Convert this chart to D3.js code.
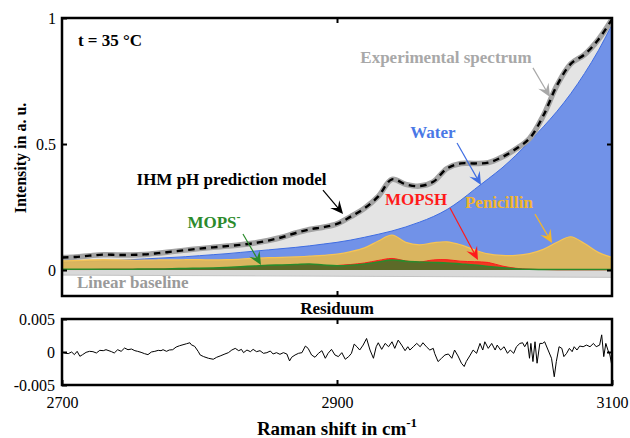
<!DOCTYPE html>
<html>
<head>
<meta charset="utf-8">
<style>
  body { margin: 0; background: #fff; }
  svg { font-family: "Liberation Serif", "Times New Roman", serif; }
  .lbl { font-weight: bold; font-size: 17px; font-family: "Liberation Serif", "Times New Roman", serif; }
  .tick text { font-size: 16px; font-family: "Liberation Serif", "Times New Roman", serif; }
  .tick line { stroke: #000; stroke-width: 2; }
  .domain { display: none; }
</style>
</head>
<body>
<script src="https://d3js.org/d3.v7.min.js"></script>
<script>
// wavenumbers (cm^-1) of the component spectra
var wave = [2700,2710,2720,2730,2740,2750,2760,2770,2780,2790,
            2800,2810,2820,2830,2840,2850,2860,2870,2880,2890,
            2900,2910,2920,2930,2940,2950,2960,2970,2980,2990,
            3000,3010,3020,3030,3040,3050,3060,3070,3080,3090,3100];

// experimental spectrum / IHM model
var spectrum = [0.050,0.052,0.057,0.061,0.060,0.060,0.062,0.067,0.073,0.079,
                0.085,0.090,0.095,0.100,0.107,0.117,0.130,0.147,0.161,0.170,
                0.183,0.212,0.245,0.292,0.360,0.340,0.333,0.350,0.403,0.423,
                0.423,0.426,0.448,0.480,0.522,0.612,0.733,0.818,0.855,0.914,0.995];

var water = [0.030,0.032,0.034,0.036,0.038,0.041,0.044,0.047,0.050,0.053,
             0.057,0.061,0.065,0.070,0.075,0.080,0.085,0.090,0.096,0.103,
             0.110,0.119,0.130,0.142,0.155,0.171,0.190,0.212,0.240,0.277,
             0.320,0.362,0.405,0.455,0.510,0.568,0.630,0.700,0.780,0.870,0.975];

var penicillin = [0.038,0.038,0.040,0.041,0.040,0.039,0.039,0.040,0.040,0.041,
                  0.041,0.040,0.041,0.043,0.047,0.049,0.050,0.052,0.055,0.058,
                  0.063,0.073,0.088,0.115,0.139,0.110,0.100,0.108,0.112,0.100,
                  0.080,0.064,0.058,0.058,0.065,0.082,0.110,0.132,0.105,0.070,0.050];

var mopsh = [0.002,0.002,0.002,0.003,0.003,0.003,0.003,0.004,0.004,0.004,
             0.005,0.005,0.006,0.007,0.009,0.011,0.013,0.015,0.016,0.016,
             0.018,0.022,0.028,0.038,0.046,0.036,0.032,0.040,0.041,0.035,
             0.033,0.030,0.016,0.007,0.003,0.002,0.001,0.001,0.001,0.001,0.001];

var mops = [0.003,0.003,0.003,0.003,0.003,0.003,0.004,0.004,0.005,0.006,
            0.007,0.008,0.010,0.013,0.016,0.019,0.020,0.022,0.024,0.020,
            0.017,0.019,0.024,0.032,0.040,0.035,0.032,0.030,0.028,0.024,
            0.020,0.014,0.009,0.005,0.003,0.002,0.002,0.002,0.002,0.002,0.002];

// linear baseline end points
var baseWave = [2700, 3100];
var baseVal = [-0.020, -0.029];

// residuum, in units of 1e-3
var resWave = [2700,2702,2704.5,2707,2709,2711,2713,2715,2717.5,2720,2722.5,2725,2727.5,2730,2732,2736,2738,2740.5,2743,2745.5,
  2748,2750.5,2753,2755,2757.5,2760,2762.5,2765,2767.5,2770,2772,2773.5,2776,2778,2780.5,2783,2785.5,2788,2790.5,2793,
  2794,2796.5,2799,2800.5,2803,2806.5,2810,2812.5,2815,2818.5,2821,2823.5,2826,2828.5,2830.5,2832,2834.5,2837,2839,2841.5,
  2844,2846.5,2849,2851.5,2853.5,2856,2858.5,2861,2863.5,2865.5,2867,2869.5,2872,2874.5,2877,2879,2881.5,2884,2886.5,2889,
  2891.5,2893.5,2896,2898.5,2901,2903.5,2906,2908.5,2910.5,2912.5,2914.5,2916.5,2919,2921.5,2924,2926.5,2928.5,2930,2932.5,2935,
  2937.5,2940,2942,2944.5,2947,2949.5,2951.5,2953,2955.5,2958,2960.5,2962.5,2965,2967.5,2970,2971,2973.5,2976,2978.5,2981,
  2983.5,2985.5,2988,2990.5,2992.5,2994,2996.5,2999,3001.5,3004,3006,3007.5,3010,3012.5,3015,3016.5,3019,3021.5,3024,3026,
  3028.5,3030.5,3033,3035,3036.5,3038.5,3040,3041,3042.5,3044,3045.5,3047.5,3049.5,3051,3053.5,3056,3058,3059.5,3061.5,3063.5,
  3065,3067,3069,3071,3072.5,3074.5,3076.5,3079,3081.5,3084,3086.5,3088.5,3091,3092.5,3094,3095.5,3097,3098.5,3100];
var resVal = [0,-0.15,-0.25,0,-0.4,0.1,-0.65,-0.4,-0.05,0.1,0.05,-0.15,0.25,0.2,0.35,0.05,-0.15,0.35,0.1,0.6,
  0.35,0.45,0.2,0.1,-0.05,-0.25,-0.4,0,0.1,0.25,0.2,0.35,0.1,0.3,0.35,0.75,0.95,1.1,1.25,1.4,
  1.1,0.85,0.1,-0.45,-0.7,-0.95,-1.1,-0.8,-0.6,-0.3,-0.1,0.3,0.55,0.2,0.4,-0.1,0.3,0.05,0.4,0.05,
  0.2,-0.2,-0.1,0.15,-0.3,-0.1,-0.35,-0.1,-0.3,-1.35,-0.8,-0.45,-0.2,-0.1,0.9,0.55,-0.45,-0.8,-0.2,0.2,
  -0.95,-0.2,0.4,-0.45,-0.7,-0.1,-1.1,-0.7,-0.2,1.2,0.8,0.3,1.05,2.05,0.3,-0.95,0.8,1.4,0.4,1.3,
  0.8,1.55,0.55,1.8,1.05,0.2,0.8,0.3,0.8,1.3,0.8,1.4,0.8,0.3,0.55,-0.2,-1.45,-0.95,-0.45,-0.3,
  -0.95,0.3,-0.6,-1.7,-2.2,-1.45,-0.6,0.3,-0.2,1.3,0.3,1.55,0.55,1.3,0.3,1.05,0.3,0.8,-0.2,0.3,
  -0.2,0.8,1.3,1.4,0.8,1.55,-0.95,1.3,-1.45,1.55,-1.7,1.3,1.3,1.55,0.3,-0.95,-3.75,-1.45,0.8,0.55,
  -0.7,-0.2,0.55,0.05,0.8,0.3,0.9,0.8,1.05,0.8,1.3,0.8,1.05,2.6,-0.7,1.3,0.3,-0.45,-2.2];

var mainTicks = [0, 0.5, 1], mainTickLabels = ["0", "0.5", "1"];
var resTicks = [-5, 0, 5], resTickLabels = ["-0.005", "0", "0.005"];
var xTicks = [2700, 2900, 3100], xTickLabels = ["2700", "2900", "3100"];

var width = 630, height = 438;
var box = {left: 62, right: 612, top: 18, bottom: 296};
var rbox = {top: 319, bottom: 385};

var svg = d3.select("body").append("svg")
    .attr("width", width).attr("height", height);

var x = d3.scaleLinear().domain([2700, 3100]).range([box.left, box.right]);
var y = d3.scaleLinear().domain([-0.103, 1]).range([box.bottom, box.top]);
var yr = d3.scaleLinear().domain([-5, 5]).range([rbox.bottom, rbox.top]);

var defs = svg.append("defs");
defs.append("clipPath").attr("id", "clipMain").append("rect")
    .attr("x", box.left).attr("y", box.top)
    .attr("width", box.right - box.left).attr("height", box.bottom - box.top);
defs.append("clipPath").attr("id", "clipRes").append("rect")
    .attr("x", box.left).attr("y", rbox.top)
    .attr("width", box.right - box.left).attr("height", rbox.bottom - rbox.top);

var plot = svg.append("g").attr("clip-path", "url(#clipMain)");

function areaOf(vals) {
  return d3.area()
    .x(function(d, i) { return x(wave[i]); })
    .y0(y(0))
    .y1(function(d) { return y(d); })
    .curve(d3.curveCatmullRom)(vals);
}
function lineOf(vals) {
  return d3.line()
    .x(function(d, i) { return x(wave[i]); })
    .y(function(d) { return y(d); })
    .curve(d3.curveCatmullRom)(vals);
}

// linear baseline band
plot.append("path")
    .attr("d", d3.area()
      .x(function(d, i) { return x(baseWave[i]); })
      .y0(y(0))
      .y1(function(d) { return y(d); })(baseVal))
    .attr("fill", "#d9d9d9");
plot.append("path")
    .attr("d", d3.line()
      .x(function(d, i) { return x(baseWave[i]); })
      .y(function(d) { return y(d); })(baseVal))
    .attr("fill", "none").attr("stroke", "#c2c2c2").attr("stroke-width", 1);

// experimental spectrum area
plot.append("path").attr("d", areaOf(spectrum)).attr("fill", "#e4e4e4");

// water
plot.append("path").attr("d", areaOf(water)).attr("fill", "#7192e8");
plot.append("path").attr("d", lineOf(water)).attr("fill", "none")
    .attr("stroke", "#3f6de2").attr("stroke-width", 1);

// penicillin
plot.append("path").attr("d", areaOf(penicillin)).attr("fill", "#e6b950").attr("fill-opacity", 0.9);
plot.append("path").attr("d", lineOf(penicillin)).attr("fill", "none")
    .attr("stroke", "#f6c454").attr("stroke-width", 1.2);

// MOPSH
plot.append("path").attr("d", areaOf(mopsh)).attr("fill", "#f03a22");
plot.append("path").attr("d", lineOf(mopsh)).attr("fill", "none")
    .attr("stroke", "#ff1a1a").attr("stroke-width", 1);

// MOPS-
plot.append("path").attr("d", areaOf(mops)).attr("fill", "#5c6a28");
plot.append("path").attr("d", lineOf(mops)).attr("fill", "none")
    .attr("stroke", "#2b8a2b").attr("stroke-width", 1.6);

// experimental (thick grey) + model (dashed black)
plot.append("path").attr("d", lineOf(spectrum)).attr("fill", "none")
    .attr("stroke", "#a3a3a3").attr("stroke-width", 5.5).attr("stroke-linejoin", "round");
plot.append("path").attr("d", lineOf(spectrum)).attr("fill", "none")
    .attr("stroke", "#000").attr("stroke-width", 2.4).attr("stroke-dasharray", "6.5,5");

// main frame + ticks
svg.append("rect")
    .attr("x", box.left).attr("y", box.top)
    .attr("width", box.right - box.left).attr("height", box.bottom - box.top)
    .attr("fill", "none").attr("stroke", "#000").attr("stroke-width", 2.5);

svg.append("g").attr("transform", "translate(" + box.left + ",0)")
    .call(d3.axisLeft(y).tickValues(mainTicks).tickSizeInner(-5).tickSizeOuter(0).tickPadding(6)
      .tickFormat(function(d, i) { return mainTickLabels[i]; }));
svg.append("g").attr("transform", "translate(" + box.right + ",0)")
    .call(d3.axisRight(y).tickValues([0, 0.5]).tickSizeInner(-5).tickSizeOuter(0).tickFormat(""));
svg.append("g").attr("transform", "translate(0," + box.top + ")")
    .call(d3.axisTop(x).tickValues([2900]).tickSizeInner(-5).tickSizeOuter(0).tickFormat(""));
svg.append("g").attr("transform", "translate(0," + box.bottom + ")")
    .call(d3.axisBottom(x).tickValues([2900]).tickSizeInner(-5).tickSizeOuter(0).tickFormat(""));

// residuum panel
svg.append("g").attr("clip-path", "url(#clipRes)")
  .append("path")
    .attr("d", d3.line()
      .x(function(d, i) { return x(resWave[i]); })
      .y(function(d) { return yr(d); })(resVal))
    .attr("fill", "none").attr("stroke", "#000").attr("stroke-width", 1);

svg.append("rect")
    .attr("x", box.left).attr("y", rbox.top)
    .attr("width", box.right - box.left).attr("height", rbox.bottom - rbox.top)
    .attr("fill", "none").attr("stroke", "#000").attr("stroke-width", 2.5);

svg.append("g").attr("transform", "translate(" + box.left + ",0)")
    .call(d3.axisLeft(yr).tickValues(resTicks).tickSizeInner(-5).tickSizeOuter(0).tickPadding(7)
      .tickFormat(function(d, i) { return resTickLabels[i]; }));
svg.append("g").attr("transform", "translate(" + box.right + ",0)")
    .call(d3.axisRight(yr).tickValues([0]).tickSizeInner(-5).tickSizeOuter(0).tickFormat(""));
svg.append("g").attr("transform", "translate(0," + rbox.top + ")")
    .call(d3.axisTop(x).tickValues([2900]).tickSizeInner(-5).tickSizeOuter(0).tickFormat(""));
svg.append("g").attr("transform", "translate(0," + rbox.bottom + ")")
    .call(d3.axisBottom(x).tickValues(xTicks).tickSizeInner(-5).tickSizeOuter(0).tickPadding(12)
      .tickFormat(function(d, i) { return xTickLabels[i]; }));

// titles
svg.append("text").attr("class", "lbl").style("font-size", "16px")
    .attr("transform", "translate(26,158)rotate(-90)")
    .attr("text-anchor", "middle").text("Intensity in a. u.");
svg.append("text").attr("class", "lbl")
    .attr("x", x(2900)).attr("y", 314).attr("text-anchor", "middle").text("Residuum");
var xt = svg.append("text").attr("class", "lbl").style("font-size", "19px")
    .attr("x", x(2900)).attr("y", 435).attr("text-anchor", "middle");
xt.append("tspan").text("Raman shift in cm");
xt.append("tspan").attr("dy", -8).style("font-size", "13px").text("-1");

// annotations (positions in data units)
function arrow(w1, v1, w2, v2, color) {
  var x1 = x(w1), y1 = y(v1), x2 = x(w2), y2 = y(v2);
  var a = Math.atan2(y2 - y1, x2 - x1);
  svg.append("line")
      .attr("x1", x1).attr("y1", y1)
      .attr("x2", x2 - 6 * Math.cos(a)).attr("y2", y2 - 6 * Math.sin(a))
      .attr("stroke", color).attr("stroke-width", 1.2);
  svg.append("path")
      .attr("d", "M0,0 L-13,-6 L-8,0 L-13,6 Z")
      .attr("transform", "translate(" + x2 + "," + y2 + ")rotate(" + (a * 180 / Math.PI) + ")")
      .attr("fill", color);
}
function label(w, v, txt, color, anchor) {
  return svg.append("text").attr("class", "lbl")
      .attr("x", x(w)).attr("y", y(v))
      .attr("text-anchor", anchor || "middle")
      .attr("fill", color).text(txt);
}

label(2711.6, 0.889, "t = 35 \u00B0C", "#000", "start");
label(2979.3, 0.821, "Experimental spectrum", "#a8a8a8");
arrow(3042.5, 0.802, 3054.9, 0.687, "#a8a8a8");
label(2969.8, 0.524, "Water", "#4a78e6");
arrow(2987.3, 0.504, 3004.7, 0.337, "#3f6de2");
label(2957.5, 0.258, "MOPSH", "#ff1a1a");
arrow(2982.2, 0.246, 3002.5, 0.040, "#ff1a1a");
label(3017.8, 0.246, "Penicillin", "#f2b52c");
arrow(3044.0, 0.222, 3056.4, 0.107, "#f2b52c");
label(2823.3, 0.337, "IHM pH prediction model", "#000");
arrow(2889.8, 0.317, 2904.4, 0.222, "#000");
var mp = label(2810.5, 0.167, "MOPS", "#2b8a2b");
mp.append("tspan").attr("dy", -7).style("font-size", "12px").text("-");
arrow(2831.6, 0.143, 2844.7, 0.020, "#2b8a2b");
label(2710.9, -0.071, "Linear baseline", "#9a9a9a", "start");
</script>
</body>
</html>
